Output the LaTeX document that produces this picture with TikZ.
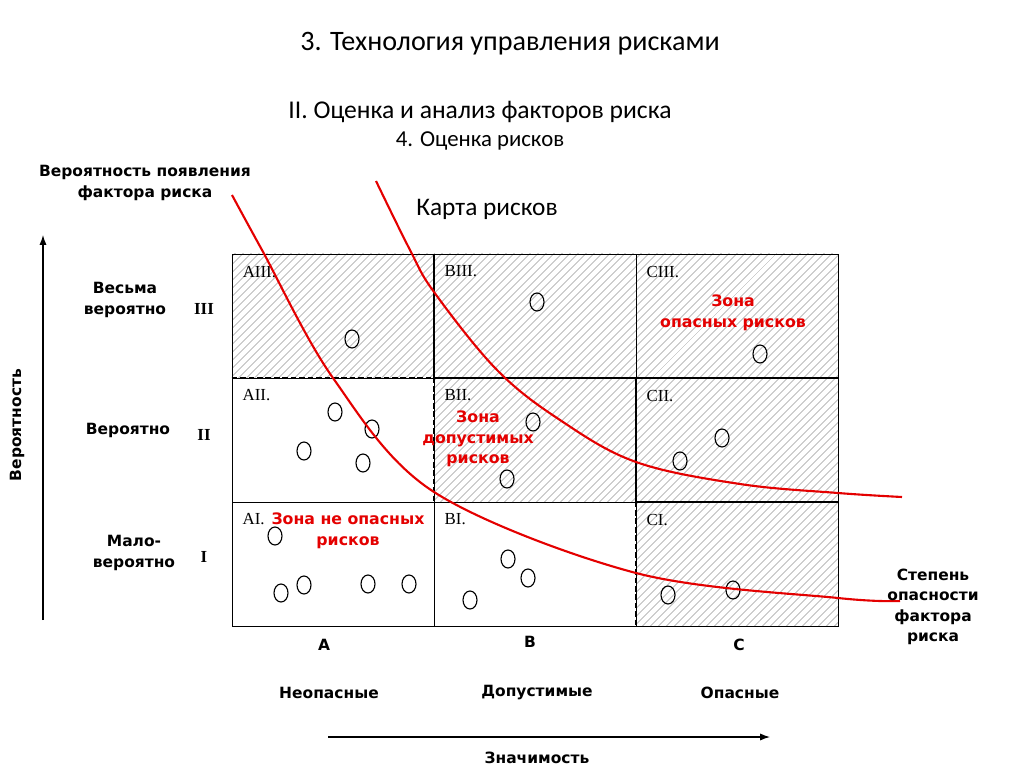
\documentclass[tikz,border=0pt]{standalone}
\usepackage{fontspec}
\usepackage{xcolor}
\usepackage{tikz}
\usetikzlibrary{shapes.geometric, arrows.meta, patterns.meta}
\newfontfamily\calib{Carlito}
\newfontfamily\verd{DejaVu Sans}
\newfontfamily\tms{Liberation Serif}
\definecolor{zonered}{RGB}{228,0,0}

\begin{document}
\begin{tikzpicture}[x=0.025cm, y=-0.025cm,
    cell/.style={draw=black, line width=0.6pt, minimum width=5.05cm, minimum height=3.1cm, inner sep=0pt},
    hatched/.style={cell, pattern={Lines[angle=45, distance=4pt, line width=0.35pt]}, pattern color=black!55},
    tag/.style={anchor=north west, font=\tms\fontsize{12}{12}\selectfont, inner sep=0pt},
    lbl/.style={font=\verd\bfseries\fontsize{11}{14.6}\selectfont, align=center},
    roman/.style={font=\tms\bfseries\fontsize{12}{12}\selectfont},
    zone/.style={font=\verd\bfseries\fontsize{11.2}{14.6}\selectfont, text=zonered, align=center},
    dot/.style={ellipse, draw=black, line width=0.8pt, minimum width=0.35cm, minimum height=0.45cm, inner sep=0pt},
    border/.style={line width=1.4pt},
    edge/.style={line width=1.2pt, dashed, dash pattern=on 4pt off 2pt},
    curve/.style={zonered, line width=1.5pt},
    axis/.style={-{Latex[length=7pt, width=5pt]}, line width=0.8pt}
]
\useasboundingbox (0,0) rectangle (1024,768);

% titles
\node[font=\calib\fontsize{20}{20}\selectfont] (title) at (510,44) {3. Технология управления рисками};
\node[font=\calib\fontsize{18.2}{18}\selectfont] (sub) at (480,112) {II. Оценка и анализ факторов риска};
\node[font=\calib\fontsize{16.2}{16}\selectfont] (subsub) at (480,141) {4. Оценка рисков};
\node[font=\calib\fontsize{18}{18}\selectfont] (map) at (487,209) {Карта рисков};

% cells
\node[hatched] (AIII) at (333,316) {};
\node[hatched] (BIII) at (535,316) {};
\node[hatched] (CIII) at (737,316) {};
\node[cell]    (AII)  at (333,440) {};
\node[hatched] (BII)  at (535,440) {};
\node[hatched] (CII)  at (737,440) {};
\node[cell]    (AI)   at (333,564) {};
\node[cell]    (BI)   at (535,564) {};
\node[hatched] (CI)   at (737,564) {};

\node[tag] at ([shift={(0.27cm,-0.3cm)}]AIII.north west) {AIII.};
\node[tag] at ([shift={(0.27cm,-0.3cm)}]BIII.north west) {BIII.};
\node[tag] at ([shift={(0.27cm,-0.3cm)}]CIII.north west) {CIII.};
\node[tag] at ([shift={(0.27cm,-0.3cm)}]AII.north west) {AII.};
\node[tag] at ([shift={(0.27cm,-0.3cm)}]BII.north west) {BII.};
\node[tag] at ([shift={(0.27cm,-0.3cm)}]CII.north west) {CII.};
\node[tag] at ([shift={(0.27cm,-0.3cm)}]AI.north west) {AI.};
\node[tag] at ([shift={(0.27cm,-0.3cm)}]BI.north west) {BI.};
\node[tag] at ([shift={(0.27cm,-0.3cm)}]CI.north west) {CI.};

% zone borders
\draw[border] (BIII.north west) -- (BIII.south west) -- (CIII.south east);
\draw[border] (CII.north west) -- (CII.south west) -- (CII.south east);
\draw[edge] (AIII.south west) -- (AIII.south east);
\draw[edge] (BII.north west) -- (BII.south west) -- (BII.south east);
\draw[edge] (CI.north west) -- (CI.south west) -- (CI.south east);

% risk factors
\foreach \px/\py [count=\k] in {352/339, 537/302, 760/354,
    335/412, 372/429, 304/451, 363/463, 533/422, 507/479, 722/438, 680/461,
    275/536, 281/593, 304/585, 368/584, 409/584, 508/559, 528/578, 470/600,
    668/595, 733/590}
  \node[dot] (f\k) at (\px,\py) {};

% zone curves
\draw[curve] plot[smooth, tension=0.55] coordinates {(232,195) (262,250) (333,378) (434,492) (636,573) (838,598) (900,601)};
\draw[curve] plot[smooth, tension=0.6] coordinates {(376,181) (410,250) (434,292) (497,370) (560,420) (636,462) (740,484) (838,493) (902,497)};

\node[zone] (z1) at (348,531) {Зона не опасных\\рисков};
\node[zone] (z2) at (478,439) {Зона\\допустимых\\рисков};
\node[zone] (z3) at (733,313) {Зона\\опасных рисков};

% vertical axis
\coordinate (ybot) at (43,620);
\coordinate (ytop) at (43,235);
\draw[axis] (ybot) -- (ytop);
\node[lbl, rotate=90] (yname) at (17,425) {Вероятность};
\node[lbl] (ytitle) at (145,183) {Вероятность появления\\фактора риска};
\node[lbl] (l3) at (125,300) {Весьма\\вероятно};
\node[lbl] (l2) at (128,430) {Вероятно};
\node[lbl] (l1) at (134,553) {Мало-\\вероятно};
\node[roman] (r3) at (204,309) {III};
\node[roman] (r2) at (204,435) {II};
\node[roman] (r1) at (204,557) {I};

% horizontal axis
\node[lbl] (ca) at (324,645) {A};
\node[lbl] (cb) at (530,642) {B};
\node[lbl] (cc) at (739,645) {C};
\node[lbl] (na) at (329,693) {Неопасные};
\node[lbl] (nb) at (537,693) {Допустимые};
\node[lbl] (nc) at (740,693) {Опасные};
\coordinate (xbeg) at (328,737);
\coordinate (xend) at (770,737);
\draw[axis] (xbeg) -- (xend);
\node[lbl] (xname) at (537,758) {Значимость};
\node[lbl] (xtitle) at (933,607) {Степень\\опасности\\фактора\\риска};
\end{tikzpicture}
\end{document}
